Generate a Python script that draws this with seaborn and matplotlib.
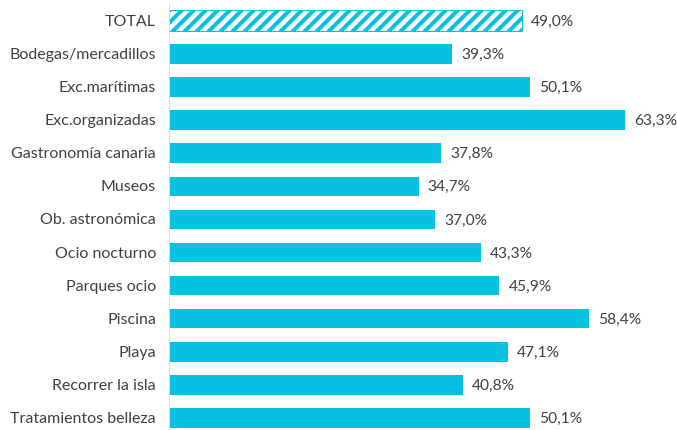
import pandas as pd
import matplotlib.pyplot as plt
import seaborn as sns

categorias = ['TOTAL', 'Bodegas/mercadillos', 'Exc.marítimas', 'Exc.organizadas',
              'Gastronomía canaria', 'Museos', 'Ob. astronómica', 'Ocio nocturno',
              'Parques ocio', 'Piscina', 'Playa', 'Recorrer la isla',
              'Tratamientos belleza']
valores = [49.0, 39.3, 50.1, 63.3, 37.8, 34.7, 37.0, 43.3, 45.9, 58.4, 47.1, 40.8, 50.1]

df = pd.DataFrame({'actividad': categorias, 'pct': valores})

sns.set_style('white')
plt.rcParams['font.family'] = ['Lato', 'DejaVu Sans']
plt.rcParams['hatch.linewidth'] = 4
plt.rcParams['hatch.color'] = '#06C1DF'

color = '#06C1DF'
texto = '#404040'

fig = plt.figure(figsize=(677 / 72, 430 / 72), dpi=72)
ax = fig.add_axes([169 / 677, -0.0095, 70 * 7.2 / 677, 1.0008])

sns.barplot(data=df, y='actividad', x='pct', orient='h', color=color,
            saturation=1, width=0.62, ax=ax)

# barra TOTAL rayada
total = ax.patches[0]
total.set_facecolor('white')
total.set_edgecolor(color)
total.set_hatch('//')
total.set_linewidth(1)

for i, v in enumerate(valores):
    ax.annotate(f'{v:.1f}%'.replace('.', ','), xy=(v, i), xytext=(9, -1.5),
                textcoords='offset points', va='center', ha='left',
                fontsize=15.5, color=texto)

ax.set_xlim(0, 70)
ax.set_ylim(12.5, -0.5)
ax.set_xlabel('')
ax.set_ylabel('')
ax.set_xticks([])
ax.tick_params(axis='y', length=0, pad=13, labelsize=16, labelcolor=texto)
for s in ['top', 'right', 'bottom']:
    ax.spines[s].set_visible(False)
ax.spines['left'].set_color('#d9d9d9')
ax.spines['left'].set_linewidth(1)

fig.savefig('out.png', dpi=72)
